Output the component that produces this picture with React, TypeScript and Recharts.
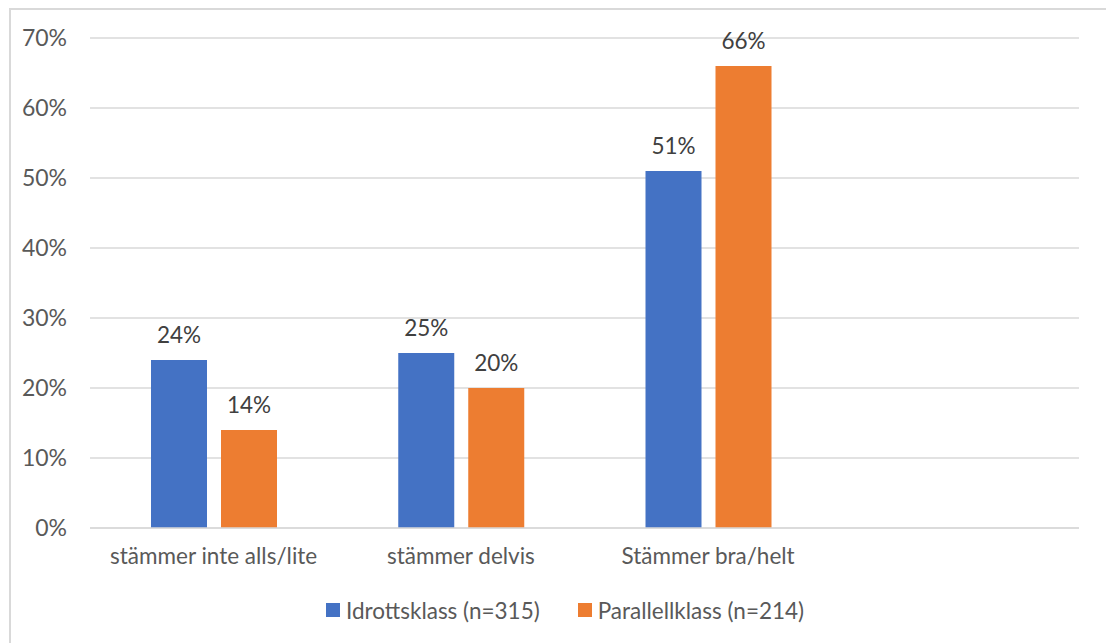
import { BarChart, Bar, XAxis, YAxis, CartesianGrid, Legend, LabelList } from 'recharts';

const categories = ['stämmer inte alls/lite', 'stämmer delvis', 'Stämmer bra/helt', ''];
const idrottsklass = [24, 25, 51, null];
const parallellklass = [14, 20, 66, null];
const yTicks = [0, 10, 20, 30, 40, 50, 60, 70];

const SERIES = [
  { key: 'idrott', name: 'Idrottsklass (n=315)', color: '#4472C4' },
  { key: 'parallell', name: 'Parallellklass (n=214)', color: '#ED7D31' },
];

const data = categories.map((name, i) => ({
  name,
  idrott: idrottsklass[i],
  parallell: parallellklass[i],
}));

const FONT = 'Lato, "Open Sans", sans-serif';
const FS = 22.5;

function LegendContent() {
  return (
    <div style={{ display: 'flex', alignItems: 'center', height: 26, fontFamily: FONT, fontSize: FS, color: '#595959' }}>
      {SERIES.map((s, i) => (
        <div key={s.key} style={{ display: 'flex', alignItems: 'center', marginLeft: i ? 38 : 0 }}>
          <span style={{ width: 14, height: 14, background: s.color, marginRight: 6, display: 'inline-block' }} />
          <span>{s.name}</span>
        </div>
      ))}
    </div>
  );
}

export default function App() {
  return (
    <div style={{ position: 'absolute', left: 0, top: 0, width: 1106, height: 643, overflow: 'hidden', background: '#fff' }}>
      <div
        style={{
          position: 'absolute',
          left: 9,
          top: 8,
          width: 1200,
          height: 800,
          borderLeft: '2px solid #d9d9d9',
          borderTop: '2px solid #d9d9d9',
        }}
      />
      <div style={{ position: 'absolute', left: 0, top: 0 }}>
        <BarChart
          width={1106}
          height={643}
          data={data}
          margin={{ top: 38, right: 27, left: 0, bottom: 20 }}
          barSize={56}
          barGap={14}
        >
          <CartesianGrid vertical={false} stroke="#d9d9d9" strokeWidth={1.5} />
          <XAxis
            dataKey="name"
            height={69}
            tickLine={false}
            tickSize={0}
            tickMargin={20}
            axisLine={{ stroke: '#d9d9d9', strokeWidth: 1.5 }}
            tick={{ fill: '#595959', fontSize: FS, fontFamily: FONT }}
            interval={0}
          />
          <YAxis
            width={90}
            domain={[0, 70]}
            ticks={yTicks}
            tickFormatter={(v) => `${v}%`}
            axisLine={false}
            tickLine={false}
            tickSize={0}
            tickMargin={23}
            tick={{ fill: '#595959', fontSize: 23, fontFamily: FONT }}
          />
          <Legend
            verticalAlign="bottom"
            height={26}
            content={<LegendContent />}
            wrapperStyle={{ left: 326, width: 700 }}
          />
          {SERIES.map((s) => (
            <Bar key={s.key} dataKey={s.key} name={s.name} fill={s.color} isAnimationActive={false}>
              <LabelList
                dataKey={s.key}
                position="top"
                offset={17}
                formatter={(v: any) => (v == null ? '' : `${v}%`)}
                style={{ fill: '#404040', fontSize: FS, fontFamily: FONT }}
              />
            </Bar>
          ))}
        </BarChart>
      </div>
    </div>
  );
}
